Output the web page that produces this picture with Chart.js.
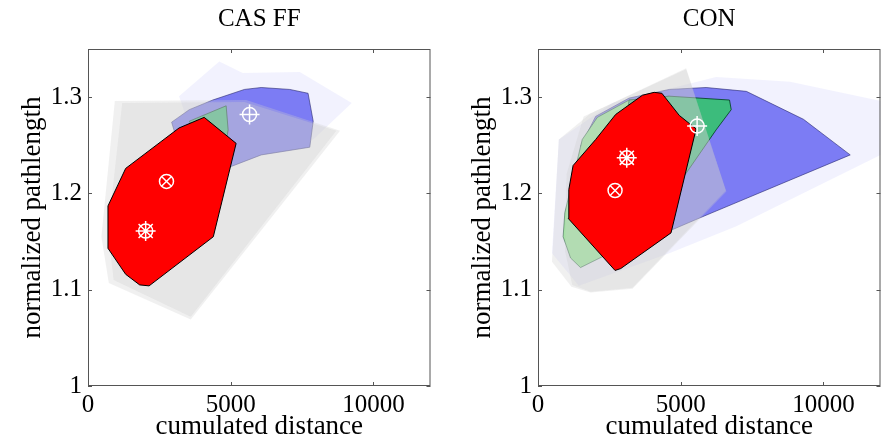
<!DOCTYPE html>
<html>
<head>
<meta charset="utf-8">
<script src="https://cdn.jsdelivr.net/npm/chart.js@4.4.0/dist/chart.umd.min.js"></script>
<style>
  body { margin: 0; background: #fff; width: 884px; height: 444px; overflow: hidden; position: relative; }
  canvas { position: absolute; top: 0; }
  #left { left: 0; }
  #right { left: 450px; }
</style>
</head>
<body>
<canvas id="left" width="442" height="444"></canvas>
<canvas id="right" width="442" height="444"></canvas>
<script>
// axes
const xTicks = [0, 5000, 10000];
const yTicks = [1, 1.1, 1.2, 1.3];
const panelTitles = ['CAS FF', 'CON'];

// CAS FF hulls [distance, pathlength]
const casLavender = [[3190,1.301],[4600,1.337],[5420,1.325],[7420,1.326],[9240,1.294],[7890,1.256],[5780,1.245],[3550,1.270]];
const casBlue = [[2930,1.274],[3550,1.287],[4370,1.297],[5480,1.308],[6070,1.310],[7070,1.308],[7710,1.304],[7890,1.275],[7770,1.248],[6070,1.240],[4840,1.226],[3080,1.259]];
const casGreen = [[3550,1.275],[4840,1.291],[4910,1.266],[4750,1.237],[4130,1.245]];
const casGrayOuter = [[940,1.296],[5540,1.297],[8830,1.265],[3600,1.069],[730,1.107],[470,1.155]];
const casGrayInner = [[1200,1.294],[5480,1.295],[8700,1.265],[3600,1.072],[900,1.110],[700,1.160]];
const casRed = [[4070,1.279],[5190,1.252],[4390,1.155],[2140,1.104],[1810,1.105],[1320,1.116],[700,1.143],[700,1.187],[1320,1.226],[3190,1.268]];
const casPlus = [5660, 1.282];
const casCircX = [2750, 1.2125];
const casStar = [2020, 1.161];

// CON hulls
const conLavender = [[490,1.138],[730,1.256],[2610,1.294],[6240,1.321],[8830,1.316],[12350,1.294],[12350,1.245],[6950,1.166],[4600,1.138],[1430,1.104]];
const conBlue = [[1490,1.249],[2020,1.280],[3190,1.299],[4600,1.308],[5890,1.310],[7300,1.306],[9300,1.277],[10940,1.240],[5780,1.176],[4600,1.161]];
const conGreenOuter = [[880,1.155],[940,1.180],[1550,1.256],[2080,1.279],[3190,1.297],[4600,1.301],[5000,1.290],[4000,1.160],[1490,1.123],[1140,1.133]];
const conGreenInner = [[3190,1.297],[4600,1.301],[6710,1.297],[6770,1.287],[6240,1.266],[5190,1.221],[4000,1.180],[3000,1.250]];
const conGrayOuter = [[490,1.129],[730,1.256],[1840,1.283],[5190,1.330],[6600,1.202],[3310,1.101],[1840,1.097],[1170,1.103]];
const conGrayInner = [[1600,1.280],[5190,1.329],[6580,1.203],[3310,1.102],[1840,1.098],[1200,1.105],[950,1.140],[1000,1.220]];
const conRed = [[4070,1.305],[4340,1.304],[4950,1.281],[5540,1.267],[4660,1.159],[2900,1.122],[2700,1.120],[1060,1.174],[1080,1.204],[1230,1.229],[2020,1.256],[2720,1.282],[3660,1.302]];
const conPlus = [5575, 1.270];
const conCircX = [2700, 1.203];
const conStar = [3110, 1.237];

const FONT = 'Liberation Serif';

function hullSet(points, fill, border, order) {
  const data = points.concat([points[0]]).map(p => ({ x: p[0], y: p[1] }));
  return {
    data, showLine: true, fill: 'shape', backgroundColor: fill,
    borderColor: border || 'rgba(0,0,0,0)', borderWidth: 1,
    pointRadius: 0, tension: 0, order
  };
}

function markerSet(points, style, r) {
  return {
    data: points.map(p => ({ x: p[0], y: p[1] })), showLine: false,
    pointStyle: style, pointRadius: r, pointBorderColor: '#fff',
    pointBackgroundColor: 'rgba(0,0,0,0)', pointBorderWidth: 1.5, order: 0
  };
}

// box and inward ticks
const framePlugin = {
  id: 'frame',
  afterDatasetsDraw(chart) {
    const { ctx, chartArea: a, scales: { x, y } } = chart;
    ctx.save();
    ctx.strokeStyle = '#555';
    ctx.lineWidth = 1;
    ctx.strokeRect(a.left + 0.5, a.top + 0.5, a.width - 1, a.height - 1);
    ctx.beginPath();
    xTicks.forEach(v => {
      const px = Math.round(x.getPixelForValue(v)) + 0.5;
      ctx.moveTo(px, a.bottom); ctx.lineTo(px, a.bottom - 4);
      ctx.moveTo(px, a.top); ctx.lineTo(px, a.top + 4);
    });
    yTicks.forEach(v => {
      const py = Math.round(y.getPixelForValue(v)) + 0.5;
      ctx.moveTo(a.left, py); ctx.lineTo(a.left + 4, py);
      ctx.moveTo(a.right, py); ctx.lineTo(a.right - 4, py);
    });
    ctx.stroke();
    ctx.restore();
  }
};

function makePanel(id, title, datasets) {
  new Chart(document.getElementById(id), {
    type: 'scatter',
    data: { datasets },
    plugins: [framePlugin],
    options: {
      responsive: false,
      animation: false,
      events: [],
      // the right gap comes from the marker overflow (radius 10 + border)
      layout: { padding: 0 },
      plugins: {
        legend: { display: false },
        tooltip: { enabled: false },
        title: {
          display: true, text: title, color: '#000', fullSize: false,
          font: { family: FONT, size: 25, weight: 'normal' },
          padding: { top: 4, bottom: 15 }
        }
      },
      scales: {
        x: {
          type: 'linear', min: 0, max: 12000,
          afterFit: s => { s.height = 58; s.paddingLeft = 0; s.paddingRight = 0; },
          afterBuildTicks: s => { s.ticks = xTicks.map(v => ({ value: v })); },
          grid: { display: false, drawTicks: false },
          border: { display: false },
          ticks: {
            padding: 4, color: '#000', maxRotation: 0, autoSkip: false,
            font: { family: FONT, size: 25 },
            callback: v => String(v)
          },
          title: {
            display: true, text: 'cumulated distance', color: '#000',
            font: { family: FONT, size: 27 }, padding: { top: 0, bottom: 1 }
          }
        },
        y: {
          type: 'linear', min: 1, max: 1.35,
          afterFit: s => { s.width = 88; s.paddingTop = 0; s.paddingBottom = 0; },
          afterBuildTicks: s => { s.ticks = yTicks.map(v => ({ value: v })); },
          grid: { display: false, drawTicks: false },
          border: { display: false },
          ticks: {
            padding: 6, color: '#000', autoSkip: false,
            font: { family: FONT, size: 25 },
            callback: v => String(Number(v.toFixed(1)))
          },
          title: {
            display: true, text: 'normalized pathlength', color: '#000',
            font: { family: FONT, size: 27 }, padding: { top: 17, bottom: 0 }
          }
        }
      }
    }
  });
}

const lavender = 'rgba(124,124,244,0.10)';
const blue = 'rgb(124,124,244)';
const darkGreen = 'rgb(60,188,124)';
const lightGreen = 'rgb(150,235,150)';
const gray = 'rgba(205,205,205,0.3)';
const red = '#ff0000';

makePanel('left', panelTitles[0], [
  markerSet([casPlus, casCircX, casStar], 'circle', 7),
  markerSet([casPlus], 'cross', 10),
  markerSet([casCircX], 'crossRot', 7),
  markerSet([casStar], 'star', 10),
  hullSet(casRed, red, '#000', 1),
  hullSet(casGrayInner, gray, null, 2),
  hullSet(casGrayOuter, gray, null, 3),
  hullSet(casGreen, darkGreen, 'rgba(0,60,30,0.8)', 4),
  hullSet(casBlue, blue, 'rgba(40,40,110,0.6)', 5),
  hullSet(casLavender, lavender, null, 6)
]);

makePanel('right', panelTitles[1], [
  markerSet([conPlus, conCircX, conStar], 'circle', 7),
  markerSet([conPlus], 'cross', 10),
  markerSet([conCircX], 'crossRot', 7),
  markerSet([conStar], 'star', 10),
  hullSet(conRed, red, '#000', 1),
  hullSet(conGrayInner, gray, null, 2),
  hullSet(conGrayOuter, gray, null, 3),
  hullSet(conGreenInner, darkGreen, 'rgba(0,60,30,0.8)', 4),
  hullSet(conGreenOuter, lightGreen, 'rgba(0,60,30,0.6)', 5),
  hullSet(conBlue, blue, 'rgba(40,40,110,0.6)', 6),
  hullSet(conLavender, lavender, null, 7)
]);
</script>
</body>
</html>
